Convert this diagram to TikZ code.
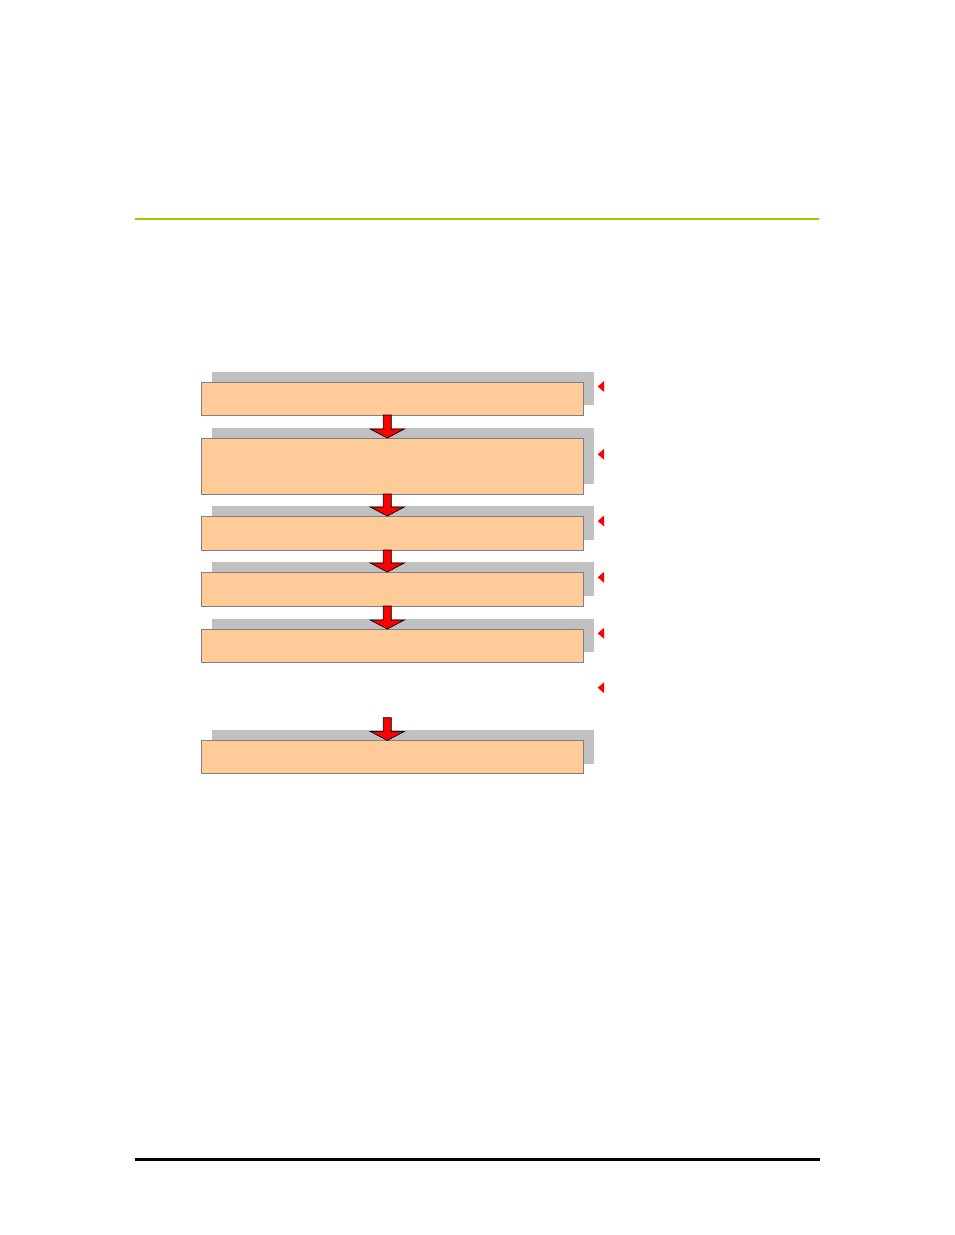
\documentclass[tikz,border=0pt]{standalone}
\usetikzlibrary{shadows,calc}
\definecolor{peach}{HTML}{FFCC99}
\definecolor{boxline}{HTML}{808080}
\definecolor{shadowgray}{HTML}{C0C0C0}
\definecolor{rulegreen}{HTML}{99CC00}
\tikzset{
  stepbox/.style={rectangle, draw=boxline, line width=1pt, fill=peach,
    inner sep=0pt, outer sep=0pt, minimum width=382pt,
    general shadow={shadow xshift=10pt, shadow yshift=10pt, fill=shadowgray, draw=none}},
  blockarrow/.style={fill=red, draw=black, line width=0.7pt, line join=miter,
    to path={let \p1=(\tikztostart), \p2=(\tikztotarget) in
      (\x1-4pt,\y1) -- (\x1-4pt,\y2+9pt) -- (\x1-17pt,\y2+9pt) -- (\x1,\y2)
      -- (\x1+17pt,\y2+9pt) -- (\x1+4pt,\y2+9pt) -- (\x1+4pt,\y1) -- cycle}},
  marker/.pic={\fill[red] (3.2,-5.5) -- (-3.2,0) -- (3.2,5.5) -- cycle;}
}
\begin{document}
\begin{tikzpicture}[x=1pt,y=-1pt]
\useasboundingbox (0,0) rectangle (954,1235);
% rules
\draw[rulegreen, line width=2pt] (135,218.8) -- (819,218.8);
\draw[black, line width=3pt] (135,1159.5) -- (820,1159.5);
% boxes
\node[stepbox, minimum height=33pt] (b1) at (392.5,398.5) {};
\node[stepbox, minimum height=56pt] (b2) at (392.5,466) {};
\node[stepbox, minimum height=34pt] (b3) at (392.5,533) {};
\node[stepbox, minimum height=34pt] (b4) at (392.5,589) {};
\node[stepbox, minimum height=33pt] (b5) at (392.5,645.5) {};
\node[stepbox, minimum height=33.5pt] (b6) at (392.5,757.2) {};
\coordinate (c5) at (387.3,717.7);
% arrows
\draw[blockarrow] ([xshift=-5.2pt]b1.south) to ([xshift=-5.2pt]b2.north);
\draw[blockarrow] ([xshift=-5.2pt]b2.south) to ([xshift=-5.2pt]b3.north);
\draw[blockarrow] ([xshift=-5.2pt]b3.south) to ([xshift=-5.2pt]b4.north);
\draw[blockarrow] ([xshift=-5.2pt]b4.south) to ([xshift=-5.2pt]b5.north);
\draw[blockarrow] (c5) to ([xshift=-5.2pt]b6.north);
% markers
\foreach \yy in {386.5,454.3,521,577.3,633.3,687.7} {
  \pic at (600.9,\yy) {marker};
}
\end{tikzpicture}
\end{document}
